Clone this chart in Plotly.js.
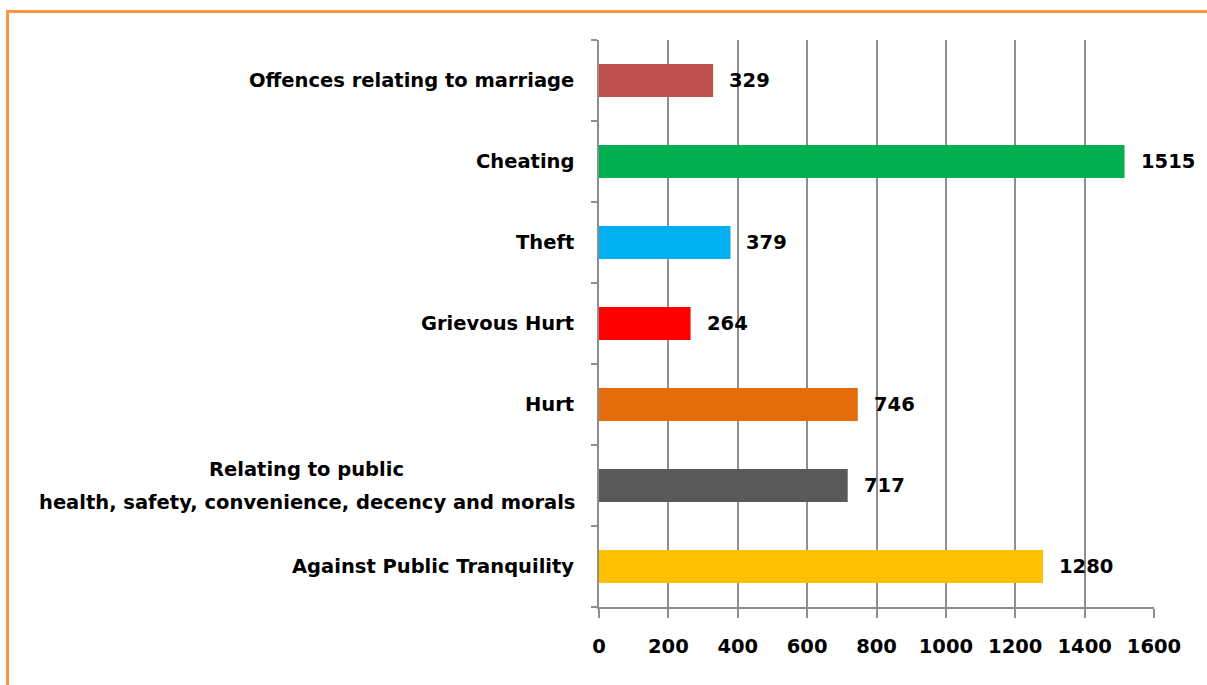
<!DOCTYPE html>
<html><head><meta charset="utf-8">
<script src="https://cdn.plot.ly/plotly-3.0.1.min.js"></script>
<style>
html,body{margin:0;padding:0;background:#fff;overflow:hidden;}
#frame{position:absolute;left:6px;top:10px;width:1300px;height:800px;border-left:3px solid #F79646;border-top:3px solid #F79646;box-sizing:border-box;pointer-events:none;z-index:5;}
#chart{position:absolute;left:0;top:0;width:1207px;height:685px;}
</style></head>
<body>
<div id="chart"></div>
<div id="frame"></div>
<script>
const categories = [
  "Against Public Tranquility",
  "Relating to public<br>health, safety, convenience, decency and morals",
  "Hurt",
  "Grievous Hurt",
  "Theft",
  "Cheating",
  "Offences relating to marriage"
];
const values = [1280, 717, 746, 264, 379, 1515, 329];
const barColors = ["#FFC000", "#595959", "#E46C0A", "#FF0000", "#00B0F0", "#00B050", "#C0504D"];
const xTicks = [0, 200, 400, 600, 800, 1000, 1200, 1400, 1600];

const FONT = "'DejaVu Sans', sans-serif";
const FS = 19.5;
const LINE_GAP = 33;
const GRID = "#8e8e8e";

const trace = {
  type: "bar",
  orientation: "h",
  y: categories,
  x: values,
  marker: {color: barColors, line: {width: 0}},
  hoverinfo: "none"
};

const annotations = [];
values.forEach((v, i) => {
  annotations.push({
    x: v, y: categories[i], xref: "x", yref: "y",
    text: String(v), showarrow: false,
    xanchor: "left", yanchor: "middle", xshift: 14,
    font: {family: FONT, size: FS, color: "#000", weight: "bold"}
  });
  const lines = categories[i].split("<br>");
  lines.forEach((ln, k) => {
    annotations.push({
      x: 0, y: categories[i], xref: "paper", yref: "y",
      text: ln, showarrow: false, align: "center",
      xanchor: lines.length > 1 ? "center" : "right", yanchor: "middle",
      xshift: lines.length > 1 ? 0 : -23,
      yshift: (((lines.length - 1) / 2) - k) * LINE_GAP,
      font: {family: FONT, size: FS, color: "#000", weight: "bold"}
    });
  });
});

const layout = {
  width: 1207, height: 685,
  margin: {l: 599, r: 53, t: 40, b: 78},
  paper_bgcolor: "#fff", plot_bgcolor: "#fff",
  showlegend: false,
  bargap: 0.59,
  font: {family: FONT, size: FS, color: "#000", weight: "bold"},
  xaxis: {
    range: [0, 1600], tickvals: xTicks, ticktext: xTicks.map(String),
    showgrid: true, gridcolor: GRID, gridwidth: 2,
    zeroline: false, showline: true, linecolor: GRID, linewidth: 2,
    ticks: "outside", ticklen: 9, tickcolor: GRID, tickwidth: 2,
    ticklabelstandoff: 12,
    tickfont: {family: FONT, size: FS, color: "#000", weight: "bold"},
    fixedrange: true
  },
  yaxis: {
    type: "category", categoryorder: "array", categoryarray: categories,
    showticklabels: false, showgrid: false, zeroline: false,
    showline: true, linecolor: GRID, linewidth: 2,
    ticks: "outside", tickson: "boundaries", ticklen: 6, tickcolor: GRID, tickwidth: 2,
    fixedrange: true
  },
  annotations: annotations
};

Plotly.newPlot("chart", [trace], layout, {displayModeBar: false, staticPlot: true}).then(() => {
  // Place multi-line category labels so their block is right-aligned at the axis
  const gd = document.getElementById("chart");
  const anns = gd.layout.annotations;
  const groups = {};
  anns.forEach((a, idx) => {
    if (a.xref === "paper" && a.xanchor === "center") {
      (groups[a.y] = groups[a.y] || []).push(idx);
    }
  });
  const update = {};
  const nodes = gd.querySelectorAll(".annotation");
  Object.keys(groups).forEach(key => {
    let maxW = 0;
    groups[key].forEach(idx => {
      const bb = nodes[idx].querySelector(".annotation-text").getBBox();
      maxW = Math.max(maxW, bb.width);
    });
    groups[key].forEach(idx => {
      update["annotations[" + idx + "].xshift"] = -24 - maxW / 2;
    });
  });
  return Plotly.relayout(gd, update);
});
</script>
</body></html>
